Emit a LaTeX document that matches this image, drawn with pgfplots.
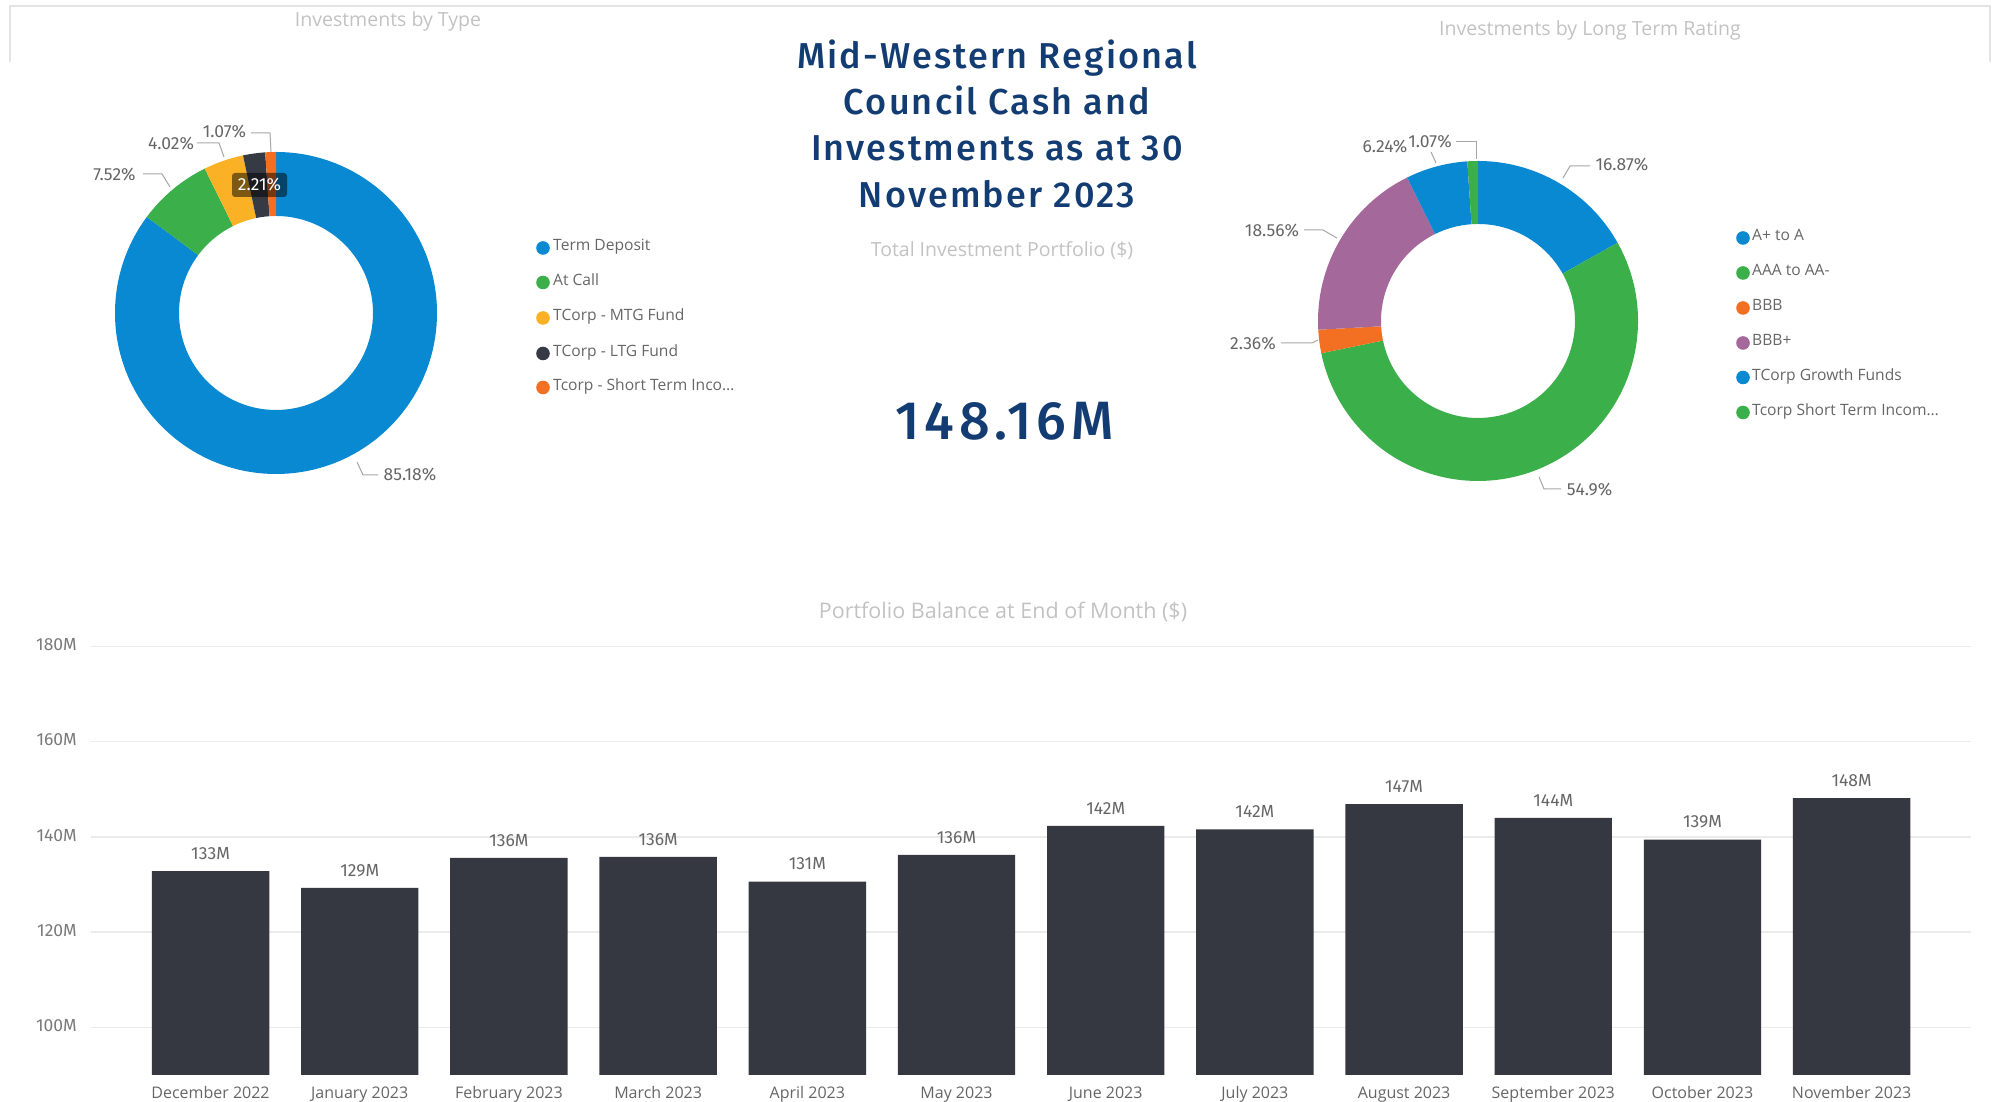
\documentclass[border=0pt]{standalone}
\usepackage{pgfplots}
\pgfplotsset{compat=1.18}
\usepackage{fontspec}
\setmainfont{Open Sans}
\newfontfamily\din{Fira Sans}
\newfontfamily\dinm[LetterSpace=6]{Fira Sans Medium}
\newfontfamily\dinbig[LetterSpace=9]{Fira Sans Medium}

\definecolor{cBlue}{HTML}{0A89D3}
\definecolor{cGreen}{HTML}{3BAF4A}
\definecolor{cYellow}{HTML}{FBB125}
\definecolor{cDark}{HTML}{363A45}
\definecolor{cOrange}{HTML}{F36F21}
\definecolor{cPurple}{HTML}{A5689B}
\definecolor{cBar}{HTML}{353841}
\definecolor{cNavy}{HTML}{133D72}
\definecolor{cHead}{HTML}{C2C2C2}
\definecolor{cLab}{HTML}{666666}
\definecolor{cTick}{HTML}{7A7A7A}
\definecolor{cLead}{HTML}{A6A6A6}
\definecolor{cGrid}{HTML}{EBEBEB}
\definecolor{cFrame}{HTML}{E4E4E4}

\newcommand\pct{\din\fontsize{17.5}{20}\selectfont}
\newcommand\leg{\fontsize{15.6}{18}\selectfont}
\newcommand\head{\fontsize{19.5}{22}\selectfont}

\begin{document}
\begin{tikzpicture}[x=1pt,y=1pt]

% panel frames
\draw[cFrame, line width=1.5pt] (10,1040) -- (10,1096) -- (1990,1096) -- (1990,1040);

% ---------- Left donut: Investments by Type ----------
\node[font=\head, text=cHead, anchor=mid] at (388,1078) {Investments by Type};
\begin{axis}[at={(276pt,789pt)}, anchor=center, x=1pt, y=1pt,
  xmin=-170, xmax=170, ymin=-170, ymax=170, hide axis, clip=false]
\pgfplotsextra{
  \gdef\cum{0}
  \foreach \v/\col in {85.18/cBlue, 7.52/cGreen, 4.02/cYellow, 2.21/cDark, 1.07/cOrange}{
    \pgfmathsetmacro\aS{90-3.6*\cum}
    \pgfmathsetmacro\aE{90-3.6*(\cum+\v)}
    \fill[\col] (axis cs:{161*cos(\aS)},{161*sin(\aS)}) arc[start angle=\aS, end angle=\aE, radius=161pt]
      -- (axis cs:{97*cos(\aE)},{97*sin(\aE)}) arc[start angle=\aE, end angle=\aS, radius=97pt] -- cycle;
    \pgfmathsetmacro\nc{\cum+\v}
    \xdef\cum{\nc}
  }
}
\end{axis}
% labels and leaders
\draw[cLead, line width=1pt] (251,969) -- (270,969) -- (271,950);
\draw[cLead, line width=1pt] (197,959) -- (219,959) -- (224,945);
\draw[cLead, line width=1pt] (143,928) -- (162,928) -- (170,915);
\draw[cLead, line width=1pt] (357,640) -- (363,627) -- (378,627);
\node[font=\pct, text=cLab, anchor=mid] at (224.5,967) {1.07\%};
\node[font=\pct, text=cLab, anchor=mid] at (171,955) {4.02\%};
\node[font=\pct, text=cLab, anchor=mid] at (114.5,924) {7.52\%};
\node[font=\pct, text=cLab, anchor=mid] at (410,624) {85.18\%};
\node[fill=black, fill opacity=0.5, text opacity=1, text=white, rounded corners=3pt,
  minimum width=55pt, minimum height=24pt, inner sep=0pt, font=\pct] at (259.5,917) {2.21\%};
% legend
\foreach \yy/\col/\txt in {854/cBlue/Term Deposit, 819.5/cGreen/At Call, 784/cYellow/TCorp - MTG Fund,
  748.5/cDark/TCorp - LTG Fund, 714.5/cOrange/Tcorp - Short Term Inco…}{
  \fill[\col] (543,\yy) circle (6.8);
  \node[font=\leg, text=cLab, anchor=mid west, inner sep=0pt] at (553,\yy) {\txt};
}

% ---------- Centre ----------
\node[font=\dinm\fontsize{36}{47}\selectfont, text=cNavy, anchor=base] at (997,1033.5) {Mid-Western Regional};
\node[font=\dinm\fontsize{36}{47}\selectfont, text=cNavy, anchor=base] at (997,987.7) {Council Cash and};
\node[font=\dinm\fontsize{36}{47}\selectfont, text=cNavy, anchor=base] at (997,941.3) {Investments as at 30};
\node[font=\dinm\fontsize{36}{47}\selectfont, text=cNavy, anchor=base] at (997,894.7) {November 2023};
\node[font=\fontsize{19.5}{22}\selectfont, text=cHead, anchor=mid] at (1002,848) {Total Investment Portfolio (\$)};
\node[font=\dinbig\fontsize{54}{60}\selectfont, text=cNavy, anchor=base] at (1004.5,662) {148.16M};

% ---------- Right donut: Investments by Long Term Rating ----------
\node[font=\head, text=cHead, anchor=mid] at (1590,1069) {Investments by Long Term Rating};
\begin{axis}[at={(1478pt,781pt)}, anchor=center, x=1pt, y=1pt,
  xmin=-170, xmax=170, ymin=-170, ymax=170, hide axis, clip=false]
\pgfplotsextra{
  \gdef\cum{0}
  \foreach \v/\col in {16.87/cBlue, 54.9/cGreen, 2.36/cOrange, 18.56/cPurple, 6.24/cBlue, 1.07/cGreen}{
    \pgfmathsetmacro\aS{90-3.6*\cum}
    \pgfmathsetmacro\aE{90-3.6*(\cum+\v)}
    \fill[\col] (axis cs:{160*cos(\aS)},{160*sin(\aS)}) arc[start angle=\aS, end angle=\aE, radius=160pt]
      -- (axis cs:{97*cos(\aE)},{97*sin(\aE)}) arc[start angle=\aE, end angle=\aS, radius=97pt] -- cycle;
    \pgfmathsetmacro\nc{\cum+\v}
    \xdef\cum{\nc}
  }
}
\end{axis}
\draw[cLead, line width=1pt] (1563,924) -- (1570,936) -- (1590,936);
\draw[cLead, line width=1pt] (1539,625) -- (1544,613) -- (1561,613);
\draw[cLead, line width=1pt] (1281,759) -- (1312,759) -- (1318,762);
\draw[cLead, line width=1pt] (1304,872) -- (1323,872) -- (1337,864);
\draw[cLead, line width=1pt] (1431,950) -- (1436,939);
\draw[cLead, line width=1pt] (1456,960) -- (1476,960) -- (1476,943);
\node[font=\pct, text=cLab, anchor=mid] at (1622,934) {16.87\%};
\node[font=\pct, text=cLab, anchor=mid] at (1589.5,609) {54.9\%};
\node[font=\pct, text=cLab, anchor=mid] at (1253,755) {2.36\%};
\node[font=\pct, text=cLab, anchor=mid] at (1272,868) {18.56\%};
\node[font=\pct, text=cLab, anchor=mid] at (1385,952) {6.24\%};
\node[font=\pct, text=cLab, anchor=mid] at (1430,957) {1.07\%};
\foreach \yy/\col/\txt in {864/cBlue/A+ to A, 829/cGreen/AAA to AA-, 794/cOrange/BBB,
  759/cPurple/BBB+, 724.5/cBlue/TCorp Growth Funds, 689.5/cGreen/Tcorp Short Term Incom…}{
  \fill[\col] (1743,\yy) circle (6.8);
  \node[font=\leg, text=cLab, anchor=mid west, inner sep=0pt] at (1752,\yy) {\txt};
}

% ---------- Bar chart ----------
\node[font=\fontsize{21.5}{25}\selectfont, text=cHead, anchor=mid] at (1003,486) {Portfolio Balance at End of Month (\$)};
\begin{axis}[at={(91.5pt,27pt)}, anchor=south west, scale only axis,
  width=1879.5pt, height=428.6pt,
  xmin=-0.798, xmax=11.80, ymin=90, ymax=180,
  ybar, bar width=117.4pt,
  axis line style={draw=none}, major tick length=0pt,
  /pgf/number format/assume math mode=true,
  ytick={100,120,140,160,180},
  yticklabel={\pgfmathprintnumber{\tick}M},
  yticklabel style={font=\din\fontsize{17.5}{20}\selectfont, text=cTick, anchor=mid east, inner sep=0pt, xshift=-14.5pt, yshift=-1.5pt},
  ymajorgrids, grid style={cGrid, line width=1.5pt},
  xtick={0,1,2,3,4,5,6,7,8,9,10,11},
  xticklabels={December 2022, January 2023, February 2023, March 2023, April 2023, May 2023,
    June 2023, July 2023, August 2023, September 2023, October 2023, November 2023},
  xticklabel style={font=\fontsize{16}{19}\selectfont, text=cLab, anchor=mid, inner sep=0pt, yshift=-20.5pt},
  nodes near coords={\pgfmathprintnumber[fixed,precision=0]{\pgfplotspointmeta}M},
  every node near coord/.append style={font=\din\fontsize{17.5}{20}\selectfont, text=cLab, anchor=mid, inner sep=0pt, yshift=14.5pt},
]
\addplot[fill=cBar, draw=none] coordinates {
  (0,132.8) (1,129.3) (2,135.6) (3,135.8) (4,130.6) (5,136.2)
  (6,142.3) (7,141.6) (8,146.9) (9,144.0) (10,139.4) (11,148.16)
};
\end{axis}

\pgfresetboundingbox
\path[use as bounding box] (0,0) rectangle (1995,1102);
\end{tikzpicture}
\end{document}
